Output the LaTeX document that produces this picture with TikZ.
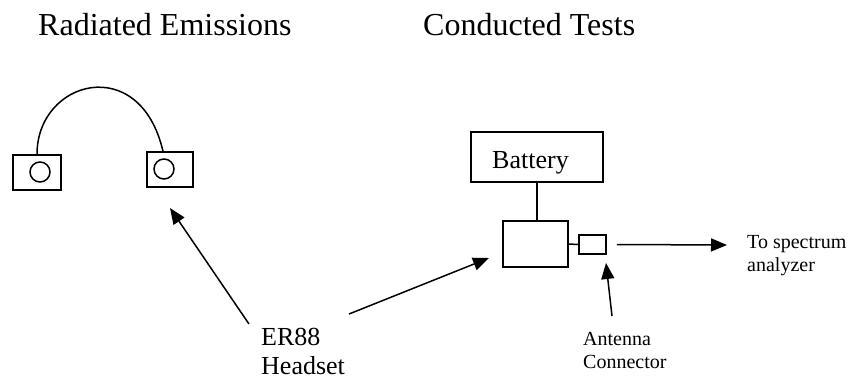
\documentclass[tikz,border=0pt]{standalone}
\usepackage{fontspec}
\setmainfont{Liberation Serif}
\usetikzlibrary{arrows.meta}

\begin{document}
\begin{tikzpicture}[x=1pt,y=-1pt,
    heading/.style={anchor=base west,inner sep=0pt,font=\fontsize{32}{36}\selectfont},
    lbl/.style={anchor=base west,inner sep=0pt,align=left,font=\fontsize{20}{23}\selectfont},
    bigl/.style={anchor=base west,inner sep=0pt,align=left,font=\fontsize{26}{29}\selectfont},
    box/.style={draw,line width=1.5pt,inner sep=0pt},
    wire/.style={line width=1.5pt},
    arr/.style={line width=1.5pt,-{Triangle[length=16pt,width=13pt]}}]
    \useasboundingbox (0,0) rectangle (856,378);
    \node[heading] (radiated) at (38,35) {Radiated Emissions};
    \node[heading] (conducted) at (423,35) {Conducted Tests};
    % headset
    \node[box,minimum width=48pt,minimum height=35pt] (ear1) at (37,172.5) {};
    \node[box,circle,minimum size=20pt] (spk1) at (40,172) {};
    \node[box,minimum width=46pt,minimum height=35pt] (ear2) at (170,169.5) {};
    \node[box,circle,minimum size=20pt] (spk2) at (164,169) {};
    \draw[wire] (ear1.north) .. controls (37,80) and (140,52) .. ([xshift=-7pt]ear2.north);
    % conducted setup
    \node[box,minimum width=132pt,minimum height=50pt] (battery) at (537,157) {};
    \node[bigl] (batterytext) at (492,168) {Battery};
    \node[box,minimum width=65pt,minimum height=46pt] (device) at (535.5,244) {};
    \node[box,minimum width=27pt,minimum height=19pt] (conn) at (592.5,244.5) {};
    \draw[wire] (battery.south) -- (battery.south |- device.north);
    \draw[wire] (device.east) -- (conn.west);
    \node[lbl] (spectrum) at (747,271) {To spectrum\\analyzer};
    \coordinate (specin) at (727,245);
    \draw[arr] ([xshift=10pt]conn.east) -- (specin);
    % labels
    \node[bigl] (er88) at (261,374) {ER88\\Headset};
    \node[lbl] (antenna) at (583,368) {Antenna\\Connector};
    \coordinate (tailA) at (249,324);
    \coordinate (tipA) at (170,208);
    \coordinate (tailB) at (349,314);
    \coordinate (tipB) at (489,258);
    \coordinate (tailC) at (612,316);
    \coordinate (tipC) at (606,263);
    \draw[arr] (tailA) -- (tipA);
    \draw[arr] (tailB) -- (tipB);
    \draw[arr] (tailC) -- (tipC);
\end{tikzpicture}
\end{document}
